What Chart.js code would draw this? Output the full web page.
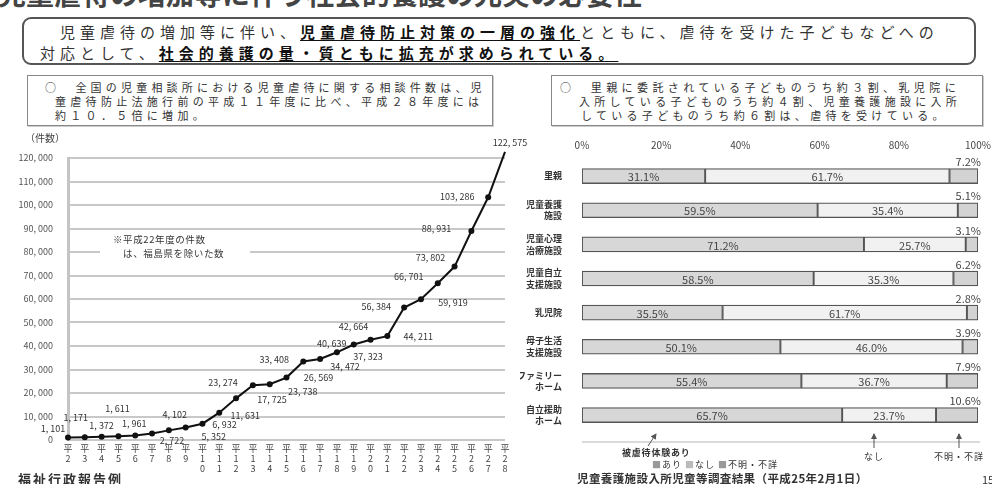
<!DOCTYPE html>
<html lang="ja">
<head>
<meta charset="utf-8">
<script src="https://cdn.jsdelivr.net/npm/chart.js@4.4.1/dist/chart.umd.min.js"></script>
<style>
  body { margin: 0; width: 992px; height: 484px; overflow: hidden; background: #fff; position: relative;
         font-family: "Noto Sans CJK JP", sans-serif; color: #222; }
  .abs { position: absolute; white-space: nowrap; }
  .lead { font-size: 15px; line-height: 18px; letter-spacing: 5px; color: #333; }
  .lead b { text-decoration: underline; text-underline-offset: 2px; color: #111; }
  .note { font-size: 11px; line-height: 14px; color: #333; }
  .box { position: absolute; box-sizing: border-box; }
  .small { font-size: 9px; line-height: 11px; color: #333; }
</style>
</head>
<body>
<!-- title (cut at the top in the original slide) -->
<div class="abs" style="left:-2px; top:-21px; font-size:28px; line-height:28px; font-weight:bold; color:#444;">児童虐待の増加等に伴う社会的養護の充実の必要性</div>

<div class="box" style="left:22px; top:17px; width:954px; height:48px; border:2px solid #555; border-radius:9px;"></div>
<div class="abs lead" style="left:40px; top:23px;">　児童虐待の増加等に伴い、<b>児童虐待防止対策の一層の強化</b>とともに、虐待を受けた子どもなどへの</div>
<div class="abs lead" style="left:40px; top:44px;">対応として、<b>社会的養護の量・質ともに拡充が求められている。</b></div>

<div class="box" style="left:27px; top:75px; width:466px; height:51px; border:1.5px solid #888; box-shadow:1px 1px 0 #ccc;"></div>
<div class="abs note" style="left:45px; top:80px; letter-spacing:4.2px;">○　全国の児童相談所における児童虐待に関する相談件数は、児</div>
<div class="abs note" style="left:55px; top:94px; letter-spacing:4.3px;">童虐待防止法施行前の平成１１年度に比べ、平成２８年度には</div>
<div class="abs note" style="left:55px; top:108px; letter-spacing:4.3px;">約１０．５倍に増加。</div>

<div class="box" style="left:551px; top:75px; width:432px; height:51px; border:1.5px solid #888; box-shadow:1px 1px 0 #ccc;"></div>
<div class="abs note" style="left:560px; top:80px; letter-spacing:4.4px;">○　里親に委託されている子どものうち約３割、乳児院に</div>
<div class="abs note" style="left:579px; top:94px; letter-spacing:4.3px;">入所している子どものうち約４割、児童養護施設に入所</div>
<div class="abs note" style="left:581px; top:108px; letter-spacing:4.3px;">している子どものうち約６割は、虐待を受けている。</div>

<!-- left: line chart -->
<canvas id="caseChart" class="abs" style="left:0; top:130px;" width="540" height="350"></canvas>
<div class="abs" style="left:25px; top:131px; font-size:10px; line-height:13px; color:#444;">（件数）</div>
<div class="abs small" style="left:100px; top:233px; width:150px; height:25px; background:#fff;"></div>
<div class="abs small" style="left:113px; top:234px; font-size:9.5px; letter-spacing:0.6px;">※平成22年度の件数</div>
<div class="abs small" style="left:113px; top:248px; font-size:9.5px; letter-spacing:0.6px;">　は、福島県を除いた数</div>
<div class="abs" style="left:18px; top:471px; font-size:13px; line-height:16px; font-weight:bold; letter-spacing:2px; color:#333;">福祉行政報告例</div>

<!-- right: stacked bar chart -->
<canvas id="abuseChart" class="abs" style="left:520px; top:130px;" width="472" height="320"></canvas>
<svg class="abs" style="left:0; top:0;" width="992" height="484">
  <defs>
    <marker id="ah" markerWidth="6" markerHeight="6" refX="5" refY="3" orient="auto">
      <path d="M0,0 L6,3 L0,6 z" fill="#555"/>
    </marker>
  </defs>
  <line x1="582" y1="442" x2="980" y2="442" stroke="#b5b5b5" stroke-width="1"/>
  <line x1="648" y1="446" x2="656" y2="434" stroke="#555" stroke-width="1" marker-end="url(#ah)"/>
  <line x1="874" y1="448" x2="874" y2="434" stroke="#555" stroke-width="1" marker-end="url(#ah)"/>
  <line x1="959" y1="448" x2="959" y2="434" stroke="#555" stroke-width="1" marker-end="url(#ah)"/>
</svg>
<div class="abs small" style="left:622px; top:447px; font-weight:bold; letter-spacing:0.8px;">被虐待体験あり</div>
<div class="abs small" style="left:864px; top:451px; letter-spacing:1px;">なし</div>
<div class="abs small" style="left:934px; top:451px; letter-spacing:1px;">不明・不詳</div>
<div class="abs small" style="left:652px; top:459px; letter-spacing:1px;"><span style="color:#999">■</span>あり <span style="color:#bbb">■</span>なし <span style="color:#999">■</span>不明・不詳</div>
<div class="abs" style="left:577px; top:471px; font-size:11.5px; line-height:14px; font-weight:bold; letter-spacing:0.4px; color:#333;">児童養護施設入所児童等調査結果（平成25年2月1日）</div>
<div class="abs" style="left:982px; top:472px; font-size:11px; line-height:14px; color:#333;">15</div>

<script>
// 児童相談所での児童虐待相談対応件数（平成2〜28年度）
const fiscalYears = [2, 3, 4, 5, 6, 7, 8, 9, 10, 11, 12, 13, 14, 15, 16, 17, 18, 19, 20, 21, 22, 23, 24, 25, 26, 27, 28];
const caseCounts = [1101, 1171, 1372, 1611, 1961, 2722, 4102, 5352, 6932, 11631, 17725, 23274, 23738, 26569,
  33408, 34472, 37323, 40639, 42664, 44211, 56384, 59919, 66701, 73802, 88931, 103286, 122575];
// where each value label sits relative to its point (dx, dy)
const labelOffsets = [[-15, -9], [-9, -20], [0, -11], [-1, -28], [-1, -12], [20, 7], [6, -16], [28, 9], [22, 1],
  [26, 3], [36, 1], [-30, -3], [33, 7], [32, 0], [-29, -2], [25, 8], [31, 4], [-22, -1], [-17, -13], [31, 0],
  [-28, -1], [32, 3], [-29, -7], [-24, -9], [-35, -2], [-31, -1], [5, -9]];

// 被虐待経験の有無（%）
const facilities = [['里親'], ['児童養護', '施設'], ['児童心理', '治療施設'], ['児童自立', '支援施設'],
  ['乳児院'], ['母子生活', '支援施設'], ['ファミリー', 'ホーム'], ['自立援助', 'ホーム']];
const abusedYes = [31.1, 59.5, 71.2, 58.5, 35.5, 50.1, 55.4, 65.7];
const abusedNo = [61.7, 35.4, 25.7, 35.3, 61.7, 46.0, 36.7, 23.7];
const abusedUnknown = [7.2, 5.1, 3.1, 6.2, 2.8, 3.9, 7.9, 10.6];

Chart.defaults.font.family = '"Noto Sans CJK JP", sans-serif';
Chart.defaults.color = '#444';

const withComma = v => v.toLocaleString('en-US').replace(/,/g, ', ');

const pointLabels = {
  id: 'pointLabels',
  afterDatasetsDraw(chart) {
    const ctx = chart.ctx;
    ctx.save();
    ctx.font = '9px "Noto Sans CJK JP"';
    ctx.fillStyle = '#333';
    ctx.textAlign = 'center';
    ctx.textBaseline = 'middle';
    chart.getDatasetMeta(0).data.forEach((pt, i) => {
      const [dx, dy] = labelOffsets[i];
      ctx.fillText(withComma(caseCounts[i]), pt.x + dx, pt.y + dy);
    });
    ctx.restore();
  }
};

new Chart(document.getElementById('caseChart'), {
  type: 'line',
  data: {
    labels: fiscalYears.map(n => ['平', ...String(n)]),
    datasets: [{
      data: caseCounts,
      borderColor: '#111',
      borderWidth: 2,
      pointRadius: 3,
      pointBackgroundColor: '#111',
      pointBorderWidth: 0,
      tension: 0,
      clip: false
    }]
  },
  options: {
    responsive: false,
    animation: false,
    layout: { padding: { top: 28, right: 35, bottom: 0, left: 0 } },
    plugins: { legend: { display: false }, tooltip: { enabled: false } },
    scales: {
      x: {
        grid: { display: false },
        border: { display: false },
        ticks: { padding: -4, autoSkip: false, maxRotation: 0, font: { size: 9, lineHeight: 1.1 }, color: '#444' },
        afterFit: s => { s.height = 40; }
      },
      y: {
        min: 0,
        max: 120000,
        grid: { color: '#c8c8c8', lineWidth: 2, drawTicks: false },
        border: { color: '#c4c4c4', width: 3 },
        ticks: { stepSize: 10000, padding: 15, font: { size: 9 }, color: '#555', callback: v => withComma(v) },
        afterFit: s => { s.width = 68; }
      }
    }
  },
  plugins: [pointLabels]
});

const barLabels = {
  id: 'barLabels',
  afterDatasetsDraw(chart) {
    const ctx = chart.ctx;
    ctx.save();
    ctx.font = '11px "Noto Sans CJK JP"';
    ctx.fillStyle = '#444';
    chart.data.datasets.forEach((ds, di) => {
      chart.getDatasetMeta(di).data.forEach((bar, i) => {
        const txt = ds.data[i].toFixed(1) + '%';
        if (di < 2) {
          const c = bar.getCenterPoint();
          ctx.textAlign = 'center';
          ctx.textBaseline = 'middle';
          ctx.fillText(txt, c.x, c.y + 1);
        } else {
          ctx.textAlign = 'right';
          ctx.textBaseline = 'bottom';
          ctx.fillText(txt, bar.x + 3, bar.y - bar.height / 2 - 1);
        }
      });
    });
    ctx.restore();
  }
};

new Chart(document.getElementById('abuseChart'), {
  type: 'bar',
  data: {
    labels: facilities,
    datasets: [
      { label: 'あり', data: abusedYes, backgroundColor: '#d7d7d7' },
      { label: 'なし', data: abusedNo, backgroundColor: '#f1f1f1' },
      { label: '不明・不詳', data: abusedUnknown, backgroundColor: '#d3d3d3' }
    ]
  },
  options: {
    indexAxis: 'y',
    responsive: false,
    animation: false,
    layout: { padding: { top: 0, right: 14, bottom: 8, left: 0 } },
    datasets: { bar: { borderColor: '#555', borderWidth: 1.3, borderSkipped: false, barThickness: 15 } },
    plugins: { legend: { display: false }, tooltip: { enabled: false } },
    scales: {
      x: {
        position: 'top',
        stacked: true,
        min: 0,
        max: 100,
        grid: { display: false },
        border: { display: false },
        ticks: { stepSize: 20, padding: 0, font: { size: 10 }, color: '#444', callback: v => v + '%' },
        afterFit: s => { s.height = 29; }
      },
      y: {
        stacked: true,
        grid: { display: false },
        border: { display: false },
        ticks: { padding: 12, font: { size: 9, weight: 'bold', lineHeight: 1.3 }, color: '#333' },
        afterFit: s => { s.width = 62; }
      }
    }
  },
  plugins: [barLabels]
});
</script>
</body>
</html>
